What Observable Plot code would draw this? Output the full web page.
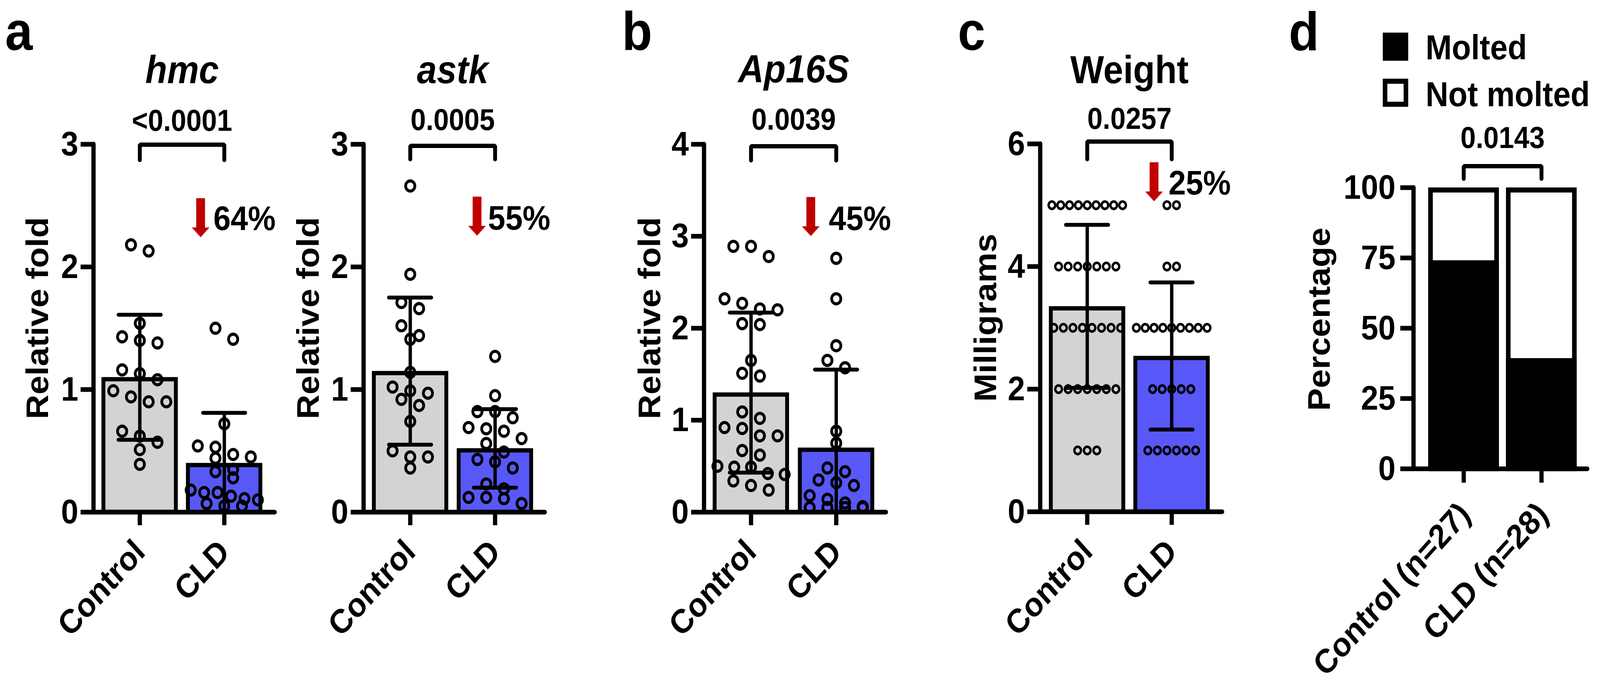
<!DOCTYPE html>
<html><head><meta charset="utf-8">
<script src="https://cdn.jsdelivr.net/npm/d3@7"></script>
<script src="https://cdn.jsdelivr.net/npm/@observablehq/plot@0.6"></script>
<style>
html,body{margin:0;padding:0;background:#fff;overflow:hidden;}
#root{position:relative;width:4526px;height:1749px;overflow:hidden;background:#fff;transform-origin:0 0;}
#root svg{position:absolute;top:0;overflow:visible;}
</style></head><body><div id="root"></div>
<script>
// ---------------- DATA ----------------
const groups = ["Control", "CLD"];

const hmcControl = [2.18, 2.13, 1.54, 1.43, 1.38, 1.40, 1.16, 1.13, 1.08, 0.99, 0.90, 0.94, 0.90, 0.66, 0.62, 0.57, 0.51, 0.39];
const hmcCLD = [1.50, 1.41, 0.72, 0.54, 0.53, 0.47, 0.45, 0.44, 0.35, 0.33, 0.28, 0.16, 0.16, 0.18, 0.13, 0.11, 0.10, 0.05, 0.07, 0.05];
const hmcMean = [1.10, 0.40];
const hmcSD = [0.51, 0.41];

const astkControl = [2.66, 1.94, 1.71, 1.66, 1.52, 1.44, 1.41, 1.14, 0.97, 0.99, 1.02, 0.92, 0.87, 0.74, 0.50, 0.45, 0.45, 0.36];
const astkCLD = [1.27, 0.95, 0.82, 0.82, 0.77, 0.69, 0.68, 0.66, 0.60, 0.56, 0.49, 0.41, 0.43, 0.36, 0.23, 0.19, 0.12, 0.11, 0.12, 0.07];
const astkMean = [1.15, 0.52];
const astkSD = [0.60, 0.32];

const ap16sControl = [2.89, 2.89, 2.78, 2.27, 2.32, 2.21, 2.20, 2.05, 2.04, 1.65, 1.48, 1.51, 1.09, 1.02, 0.91, 0.92, 0.83, 0.83, 0.67, 0.62, 0.49, 0.50, 0.49, 0.42, 0.41, 0.34, 0.24, 0.29];
const ap16sCLD = [2.76, 2.32, 1.81, 1.65, 1.57, 0.88, 0.75, 0.48, 0.44, 0.32, 0.29, 0.35, 0.18, 0.14, 0.10, 0.05, 0.06, 0.05, 0.05, 0.05];
const ap16sMean = [1.30, 0.70];
const ap16sSD = [0.87, 0.85];

const weightControl = [5,5,5,5,5,5,5,5,5, 4,4,4,4,4,4,4, 3,3,3,3,3,3,3,3, 2,2,2,2,2,2,2, 1,1,1];
const weightCLD = [5,5, 4,4, 3,3,3,3,3,3,3,3,3, 2,2,2,2,2, 1,1,1,1,1,1];
const weightMean = [3.35, 2.54];
const weightSD = [1.33, 1.20];

const moltGroups = ["Control (n=27)", "CLD (n=28)"];
const moltedPct = [74.1, 39.3];
const moltKeys = ["Molted", "Not molted"];

const titles = ["hmc", "astk", "Ap16S", "Weight"];
const pValues = ["<0.0001", "0.0005", "0.0039", "0.0257", "0.0143"];
const decreases = ["64%", "55%", "45%", "25%"];
const yLabels = ["Relative fold", "Relative fold", "Relative fold", "Milligrams", "Percentage"];
const panelLetters = ["a", "b", "c", "d"];
const yTicks3 = [0, 1, 2, 3];
const yTicks4 = [0, 1, 2, 3, 4];
const yTicks6 = [0, 2, 4, 6];
const yTicksPct = [0, 25, 50, 75, 100];

// ---------------- STYLE ----------------
const FONT = "'Liberation Sans', Arial, Helvetica, sans-serif";
const GRAY = "#d3d3d3", BLUE = "#5858f8", RED = "#c00000";
const W = 4526, H = 1749;

// red "decrease" arrow (shaft + head), centred on its midpoint
const arrowSymbol = {
  draw(ctx) {
    ctx.moveTo(-12.5, -50); ctx.lineTo(12.5, -50); ctx.lineTo(12.5, 25);
    ctx.lineTo(25, 25); ctx.lineTo(0, 50); ctx.lineTo(-25, 25);
    ctx.lineTo(-12.5, 25); ctx.closePath();
  }
};

// Prism-like scatter arrangement: close values share a row, centred on the group
function arrange(values, gi, unitX, pxPerY, o) {
  const sorted = values.slice().sort((a, b) => b - a);
  const rows = [];
  let row = null;
  for (const v of sorted) {
    if (row && (row[0] - v) * pxPerY < o.binPx) row.push(v);
    else rows.push(row = [v]);
  }
  const out = [];
  for (const r of rows) {
    const n = r.length;
    const s = n > 1 ? Math.min(o.spacePx, o.maxSpanPx / (n - 1)) : 0;
    r.forEach((v, j) => out.push({g: gi, v, x: gi + ((j - (n - 1) / 2) * s) / unitX}));
  }
  return out;
}

function textOpts(extra) {
  return Object.assign({fontFamily: FONT, fontWeight: "bold", fill: "black"}, extra);
}

function mount(svg, left) {
  svg.style.left = left + "px";
  document.getElementById("root").appendChild(svg);
}

function barPanel(c) {
  const unitX = c.cldX - c.ctrlX;
  const xlo = (c.axisX - c.ctrlX) / unitX, xhi = (c.endX - c.ctrlX) / unitX;
  const pxPerY = (c.bottom - c.top) / c.ymax;
  const pts = [...arrange(c.values[0], 0, unitX, pxPerY, c.dots), ...arrange(c.values[1], 1, unitX, pxPerY, c.dots)];
  const bars = groups.map((g, i) => ({i, g, m: c.means[i], sd: c.sds[i]}));
  const hw = 108 / unitX, capHW = 60 / unitX, sw = 11;
  const caps = [];
  bars.forEach(d => {
    caps.push({i: d.i, y: d.m + d.sd});
    if (d.m - d.sd > 0) caps.push({i: d.i, y: d.m - d.sd});
  });
  const yAt = px => c.ymax - px / pxPerY;
  const bracket = [{x: 0, y: yAt(c.brEnd)}, {x: 0, y: yAt(c.brTop)}, {x: 1, y: yAt(c.brTop)}, {x: 1, y: yAt(c.brEnd)}];
  const marks = [
    Plot.rect(bars, {x1: d => d.i - hw, x2: d => d.i + hw, y1: 0, y2: d => d.m,
      fill: d => d.i === 0 ? GRAY : BLUE, stroke: "black", strokeWidth: sw,
      insetLeft: sw / 2, insetRight: sw / 2, insetTop: sw / 2}),
    Plot.dot(pts, {x: "x", y: "v", r: c.dots.r, stroke: "black", strokeWidth: c.dots.sw, fill: "none"}),
    Plot.ruleX(bars, {x: "i", y1: d => Math.max(0, d.m - d.sd), y2: d => d.m + d.sd, strokeWidth: 9.5}),
    Plot.ruleY(caps, {y: "y", x1: d => d.i - capHW, x2: d => d.i + capHW, strokeWidth: 10, strokeLinecap: "round"}),
    Plot.ruleX([xlo], {x: d => d, y1: 0, y2: c.ymax, strokeWidth: 12, strokeLinecap: "round"}),
    Plot.ruleY([0], {x1: xlo, x2: xhi, strokeWidth: 12, strokeLinecap: "round"}),
    Plot.axisY({ticks: c.ticks, tickSize: 36, tickPadding: 7, strokeWidth: 12, fontSize: 88, fontWeight: "bold", fontFamily: FONT, label: null, tickFormat: d => String(d)}),
    Plot.axisX({ticks: [0, 1], tickSize: 34, strokeWidth: 12, tickFormat: () => "", label: null}),
    Plot.text(groups, textOpts({x: (d, i) => i, text: d => d, frameAnchor: "bottom", dy: 87, rotate: -45, textAnchor: "end", lineAnchor: "middle", fontSize: 86})),
    Plot.text([c.ylabel], textOpts({text: d => d, frameAnchor: "left", dx: c.ylabelDx, dy: -26, rotate: -90, textAnchor: "middle", lineAnchor: "middle", fontSize: 87})),
    Plot.line(bracket, {x: "x", y: "y", strokeWidth: 11, strokeLinejoin: "miter", strokeLinecap: "round"}),
    Plot.text([c.title], textOpts({text: d => d, x: 0.5, frameAnchor: "top", dy: c.titleBase - c.top, lineAnchor: "bottom", fontSize: 101, fontStyle: c.italic ? "italic" : "normal"})),
    Plot.text([c.pval], textOpts({text: d => d, x: 0.5, frameAnchor: "top", dy: c.pBase - c.top, lineAnchor: "bottom", fontSize: 78})),
    Plot.dot([0], {x: 1, frameAnchor: "top", dx: c.arrowDx, dy: c.arrowY - c.top, symbol: arrowSymbol, r: 10, fill: RED, stroke: "none"}),
    Plot.text([c.pct], textOpts({text: d => d, x: 1, frameAnchor: "top", dx: c.pctDx, dy: c.pctBase - c.top, textAnchor: "start", lineAnchor: "bottom", fontSize: 88}))
  ];
  if (c.letter) marks.push(Plot.text([c.letter], textOpts({text: d => d, frameAnchor: "top-left", dx: c.letterX - c.axisX, dy: 127 - c.top, textAnchor: "start", lineAnchor: "bottom", fontSize: 140})));
  mount(Plot.plot({
    width: c.width, height: H,
    marginLeft: c.axisX - c.left, marginRight: c.left + c.width - c.endX,
    marginTop: c.top, marginBottom: H - c.bottom,
    x: {domain: [xlo, xhi]}, y: {domain: [0, c.ymax]},
    style: {fontFamily: FONT, background: "transparent", overflow: "visible"},
    marks
  }), c.left);
}

const dotsBig = {r: 13, sw: 7.8, spacePx: 50, maxSpanPx: 190, binPx: 30};
const dotsSmall = {r: 9.4, sw: 6.5, spacePx: 27, maxSpanPx: 200, binPx: 30};

barPanel({left: 0, width: 800, axisX: 264, ctrlX: 395, cldX: 634, endX: 777, top: 369, bottom: 1311, ymax: 3, ticks: yTicks3,
  values: [hmcControl, hmcCLD], means: hmcMean, sds: hmcSD, dots: dotsBig,
  title: titles[0], italic: true, titleBase: 212, pval: pValues[0], pBase: 334, brTop: 1, brEnd: 40,
  pct: decreases[0], pctDx: -31, pctBase: 588, arrowDx: -67, arrowY: 557,
  ylabel: yLabels[0], ylabelDx: -156, letter: panelLetters[0], letterX: 14});

barPanel({left: 800, width: 800, axisX: 1028, ctrlX: 1160, cldX: 1400, endX: 1541, top: 369, bottom: 1311, ymax: 3, ticks: yTicks3,
  values: [astkControl, astkCLD], means: astkMean, sds: astkSD, dots: dotsBig,
  title: titles[1], italic: true, titleBase: 212, pval: pValues[1], pBase: 332, brTop: 4, brEnd: 38,
  pct: decreases[1], pctDx: -20, pctBase: 587, arrowDx: -51, arrowY: 553,
  ylabel: yLabels[1], ylabelDx: -155});

barPanel({left: 1650, width: 950, axisX: 1991, ctrlX: 2124, cldX: 2365, endX: 2506, top: 369, bottom: 1311, ymax: 4, ticks: yTicks4,
  values: [ap16sControl, ap16sCLD], means: ap16sMean, sds: ap16sSD, dots: dotsBig,
  title: titles[2], italic: true, titleBase: 210, pval: pValues[2], pBase: 331, brTop: 5, brEnd: 41,
  pct: decreases[2], pctDx: -21, pctBase: 588, arrowDx: -72, arrowY: 554,
  ylabel: yLabels[2], ylabelDx: -152, letter: panelLetters[1], letterX: 1759});

barPanel({left: 2620, width: 900, axisX: 2942, ctrlX: 3075, cldX: 3314, endX: 3457, top: 368, bottom: 1310, ymax: 6, ticks: yTicks6,
  values: [weightControl, weightCLD], means: weightMean, sds: weightSD, dots: dotsSmall,
  title: titles[3], italic: false, titleBase: 212, pval: pValues[3], pBase: 329, brTop: -6, brEnd: 39,
  pct: decreases[3], pctDx: -9, pctBase: 497, arrowDx: -50, arrowY: 465,
  ylabel: yLabels[3], ylabelDx: -153, letter: panelLetters[2], letterX: 2709});

// ---------------- panel d: stacked percentage bars ----------------
(function () {
  const c = {left: 3540, width: 986, axisX: 3998, ctrlX: 4140, cldX: 4360, endX: 4490, top: 480, bottom: 1200, ymax: 100};
  const unitX = c.cldX - c.ctrlX;
  const xlo = (c.axisX - c.ctrlX) / unitX, xhi = (c.endX - c.ctrlX) / unitX;
  const pxPerY = (c.bottom - c.top) / c.ymax;
  const hw = 100 / unitX, sw = 13;
  const bars = moltGroups.map((g, i) => ({i, g, molted: moltedPct[i]}));
  const yAt = px => c.ymax - px / pxPerY;
  const bracket = [{x: 0, y: yAt(-23)}, {x: 0, y: yAt(-55)}, {x: 1, y: yAt(-55)}, {x: 1, y: yAt(-23)}];
  const marks = [
    Plot.rect(bars, {x1: d => d.i - hw, x2: d => d.i + hw, y1: 0, y2: 100, fill: "white", stroke: "black", strokeWidth: sw,
      insetLeft: sw / 2, insetRight: sw / 2, insetTop: sw / 2}),
    Plot.rect(bars, {x1: d => d.i - hw, x2: d => d.i + hw, y1: 0, y2: d => d.molted, fill: "black"}),
    Plot.ruleX([xlo], {x: d => d, y1: 0, y2: 100, strokeWidth: 12, strokeLinecap: "round"}),
    Plot.ruleY([0], {x1: xlo, x2: xhi, strokeWidth: 12, strokeLinecap: "round"}),
    Plot.axisY({ticks: yTicksPct, tickSize: 37, tickPadding: 14, strokeWidth: 12, fontSize: 88, fontWeight: "bold", fontFamily: FONT, label: null, tickFormat: d => String(d)}),
    Plot.axisX({ticks: [0, 1], tickSize: 36, strokeWidth: 12, tickFormat: () => "", label: null}),
    Plot.text(moltGroups, textOpts({x: (d, i) => i, text: d => d, frameAnchor: "bottom", dx: 4, dy: 102, rotate: -45, textAnchor: "end", lineAnchor: "middle", fontSize: 86})),
    Plot.text([yLabels[4]], textOpts({text: d => d, frameAnchor: "left", dx: -265, dy: -23, rotate: -90, textAnchor: "middle", lineAnchor: "middle", fontSize: 87})),
    Plot.line(bracket, {x: "x", y: "y", strokeWidth: 11, strokeLinejoin: "miter", strokeLinecap: "round"}),
    Plot.text([pValues[4]], textOpts({text: d => d, x: 0.5, frameAnchor: "top", dy: 378 - c.top, lineAnchor: "bottom", fontSize: 78})),
    // legend
    Plot.dot([moltKeys[0]], {frameAnchor: "top-left", dx: -51, dy: 119 - c.top, symbol: "square", r: 40.6, fill: "black", stroke: "none"}),
    Plot.dot([moltKeys[1]], {frameAnchor: "top-left", dx: -51, dy: 237 - c.top, symbol: "square", r: 33.3, fill: "white", stroke: "black", strokeWidth: 13, strokeLinejoin: "miter"}),
    Plot.text([moltKeys[0]], textOpts({text: d => d, frameAnchor: "top-left", dx: 34, dy: 151 - c.top, textAnchor: "start", lineAnchor: "bottom", fontSize: 89})),
    Plot.text([moltKeys[1]], textOpts({text: d => d, frameAnchor: "top-left", dx: 34, dy: 271 - c.top, textAnchor: "start", lineAnchor: "bottom", fontSize: 89})),
    Plot.text([panelLetters[3]], textOpts({text: d => d, frameAnchor: "top-left", dx: 3645 - c.axisX, dy: 128 - c.top, textAnchor: "start", lineAnchor: "bottom", fontSize: 140}))
  ];
  mount(Plot.plot({
    width: c.width, height: H,
    marginLeft: c.axisX - c.left, marginRight: c.left + c.width - c.endX,
    marginTop: c.top, marginBottom: H - c.bottom,
    x: {domain: [xlo, xhi]}, y: {domain: [0, c.ymax]},
    style: {fontFamily: FONT, background: "transparent", overflow: "visible"},
    marks
  }), c.left);
})();

// fit the 4526x1749 layout into the actual viewport (it may be narrower than requested)
(function fit() {
  const vw = window.innerWidth || document.documentElement.clientWidth || W;
  const vh = window.innerHeight || document.documentElement.clientHeight || H;
  const sx = Math.min(1, vw / W), sy = Math.min(1, vh / H);
  document.getElementById("root").style.transform = `scale(${sx}, ${sy})`;
})();
</script></body></html>
